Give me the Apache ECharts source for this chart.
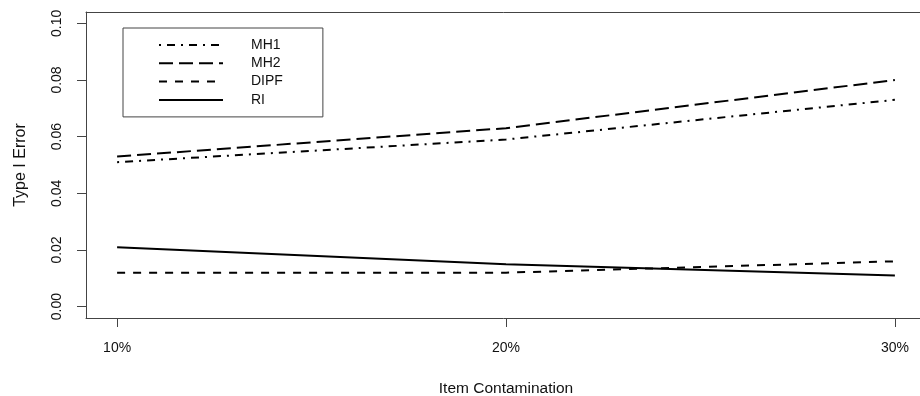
<!DOCTYPE html>
<html>
<head>
<meta charset="utf-8">
<script src="https://cdn.jsdelivr.net/npm/echarts@6/dist/echarts.min.js"></script>
<style>
  html, body { margin: 0; padding: 0; background: #fff; }
  #chart { width: 920px; height: 396px; }
</style>
</head>
<body>
<div id="chart"></div>
<script>
// Contamination levels (percent) and their tick labels
const contamination = [10, 20, 30];
const xTickLabels = ['10%', '20%', '30%'];
const yTickValues = [0, 0.02, 0.04, 0.06, 0.08, 0.10];
const yTickLabels = ['0.00', '0.02', '0.04', '0.06', '0.08', '0.10'];

// Type I error rates by method
const seriesNames = ['MH1', 'MH2', 'DIPF', 'RI'];
const mh1 = [0.051, 0.059, 0.073];
const mh2 = [0.053, 0.063, 0.080];
const dipf = [0.012, 0.012, 0.016];
const ri = [0.021, 0.015, 0.011];

const FONT = "'Liberation Sans', Arial, Helvetica, sans-serif";
const TEXT = '#111';
const FRAME = '#444';

// Line dash patterns: dot-dash, long dash, dash, solid
const dashes = [[2, 6, 8, 6], [14, 6], [8, 8], 'solid'];
const values = [mh1, mh2, dipf, ri];

// axis ranges with 4% padding on each side
const X_MIN = 9.2, X_MAX = 30.8;
const Y_MIN = -0.004, Y_MAX = 0.104;

function pairs(ys) {
  return contamination.map((x, i) => [x, ys[i]]);
}

const chart = echarts.init(document.getElementById('chart'), null, { renderer: 'canvas' });

chart.setOption({
  animation: false,
  backgroundColor: '#fff',
  textStyle: { fontFamily: FONT },
  // the plot region extends slightly past the right edge of the canvas
  grid: { left: 86, top: 12, width: 840, height: 306, show: false, outerBoundsMode: 'none', containLabel: false },
  legend: {
    orient: 'vertical',
    left: 123, top: 28,
    data: seriesNames,
    itemWidth: 64, itemHeight: 14, itemGap: 4.3,
    padding: [10, 40, 10, 35],
    borderColor: FRAME, borderWidth: 1,
    itemStyle: { opacity: 0 },
    textStyle: { color: TEXT, fontSize: 14, fontFamily: FONT, padding: [0, 0, 0, 23] }
  },
  xAxis: [{
    type: 'value',
    min: X_MIN, max: X_MAX,
    name: 'Item Contamination',
    nameLocation: 'middle',
    nameGap: 63,
    nameTextStyle: { color: TEXT, fontSize: 15.5, fontFamily: FONT },
    axisLine: { show: true, onZero: false, lineStyle: { color: FRAME, width: 1 } },
    splitLine: { show: false },
    axisTick: { show: true, length: 9, lineStyle: { color: FRAME }, customValues: contamination },
    axisLabel: {
      color: TEXT, fontSize: 14, fontFamily: FONT, margin: 23,
      customValues: contamination,
      formatter: v => xTickLabels[contamination.indexOf(v)]
    }
  }, {
    // top edge of the plot frame
    type: 'value',
    position: 'top',
    min: X_MIN, max: X_MAX,
    axisLine: { show: true, onZero: false, lineStyle: { color: FRAME, width: 1 } },
    axisTick: { show: false },
    axisLabel: { show: false },
    splitLine: { show: false }
  }],
  yAxis: {
    type: 'value',
    min: Y_MIN, max: Y_MAX,
    name: 'Type I Error',
    nameLocation: 'middle',
    nameGap: 57,
    nameRotate: 90,
    nameTextStyle: { color: TEXT, fontSize: 16, fontFamily: FONT },
    axisLine: { show: true, onZero: false, lineStyle: { color: FRAME, width: 1 } },
    splitLine: { show: false },
    axisTick: { show: true, length: 9, lineStyle: { color: FRAME }, customValues: yTickValues },
    axisLabel: {
      color: TEXT, fontSize: 14, fontFamily: FONT, margin: 22,
      rotate: 90, align: 'center', verticalAlign: 'bottom',
      customValues: yTickValues,
      formatter: v => {
        const i = yTickValues.findIndex(t => Math.abs(t - v) < 1e-9);
        return i >= 0 ? yTickLabels[i] : '';
      }
    }
  },
  series: seriesNames.map((name, i) => ({
    name: name,
    type: 'line',
    xAxisIndex: 0,
    data: pairs(values[i]),
    symbol: 'none',
    showSymbol: false,
    color: '#000',
    lineStyle: { color: '#000', width: 2, type: dashes[i] },
    emphasis: { disabled: true }
  }))
});
</script>
</body>
</html>
